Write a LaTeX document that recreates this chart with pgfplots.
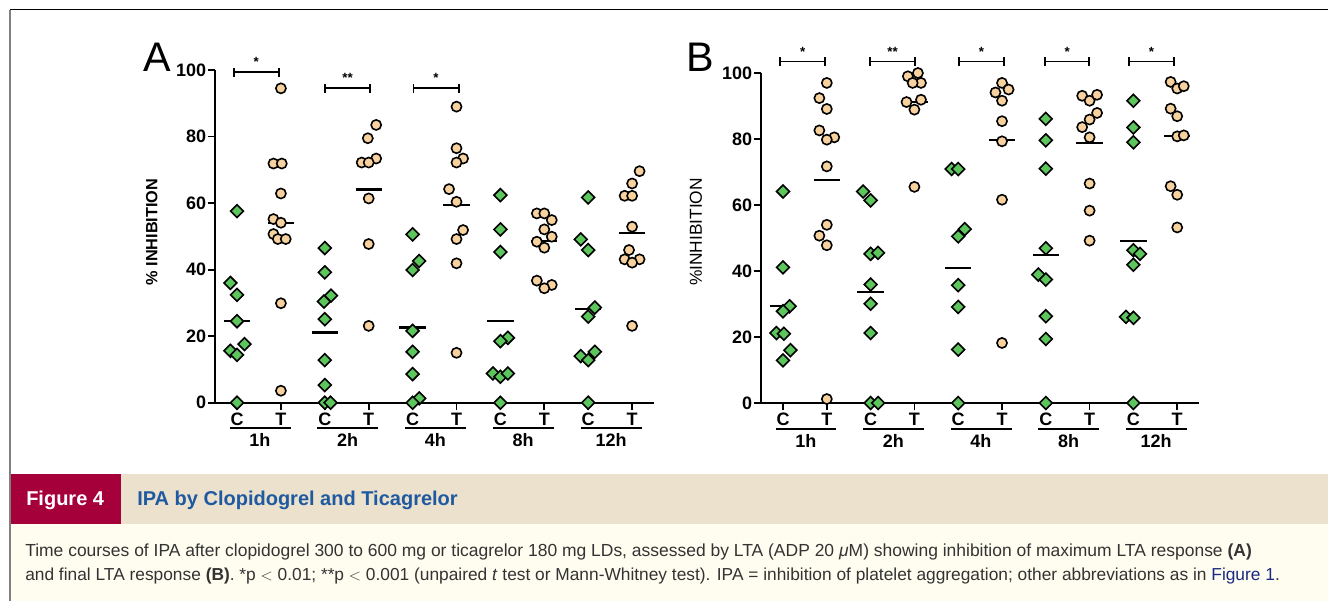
\documentclass[border=0pt]{standalone}
\usepackage{pgfplots}
\pgfplotsset{compat=1.18}
\usepackage{fontspec}
\setmainfont{Liberation Sans}
\newfontfamily\capfont{Liberation Sans}
\definecolor{cred}{HTML}{A6003A}
\definecolor{cbeige}{HTML}{EBE1CD}
\definecolor{ccream}{HTML}{FFFDF0}
\definecolor{ctitle}{HTML}{1F5AA0}
\definecolor{clink}{HTML}{1A2A80}
\definecolor{ctext}{HTML}{333333}
\definecolor{cgreen}{HTML}{5CC55C}
\definecolor{ctan}{HTML}{F7D29E}
\pgfplotsset{
 panel/.style={
  scale only axis, clip=false,
  xmin=0.5, xmax=10.5, ymin=0, ymax=100,
  axis x line=bottom, axis y line=left,
  axis line style={-, line width=1.5pt},
  xtick={1,...,10}, xticklabels={C,T,C,T,C,T,C,T,C,T},
  ytick={0,20,...,100},
  /pgf/number format/assume math mode=true,
  tick align=outside, major tick length=5.5pt,
  tick style={black, line width=1.3pt},
  xticklabel style={font=\bfseries\fontsize{13.5}{13.5}\selectfont, inner sep=1pt, yshift=-1pt},
  yticklabel style={font=\bfseries\fontsize{13.5}{13.5}\selectfont, inner sep=1pt},
 },
 cmark/.style={only marks, mark=square*, mark size=3.4pt, mark options={rotate=45, fill=cgreen, draw=black, line width=1.2pt}},
 tmark/.style={only marks, mark=*, mark size=3.8pt, mark options={fill=ctan, draw=black, line width=1.2pt}},
 med/.style={black, line width=1.6pt, no marks},
}
\newcommand{\brk}[5]{%
 \draw[line width=1.4pt] (axis cs:#1,#3) -- (axis cs:#2,#3);
 \draw[line width=1.4pt] ([yshift=-3.5pt]axis cs:#1,#3) -- ([yshift=3.5pt]axis cs:#1,#3);
 \draw[line width=1.4pt] ([yshift=-3.5pt]axis cs:#2,#3) -- ([yshift=3.5pt]axis cs:#2,#3);
 \node[font=\bfseries\fontsize{10}{10}\selectfont] at ([yshift=7.5pt]axis cs:#4,#3) {#5};}
\newcommand{\grp}[5]{%
 \draw[line width=1.3pt] ([yshift=-#5]axis cs:#1,0) -- ([yshift=-#5]axis cs:#2,0);
 \node[font=\bfseries\fontsize{13.5}{13.5}\selectfont] at ([yshift=-#5-9pt]axis cs:#3,0) {#4};}
\begin{document}
\begin{tikzpicture}[x=0.75pt,y=0.75pt]
\path[use as bounding box] (0,0) rectangle (1328,-601);
% frame and caption band
\fill[ccream] (10,-524) rectangle (1328,-601);
\fill[cbeige] (121,-474) rectangle (1328,-524);
\fill[cred] (10,-474) rectangle (121,-524);
\draw[black, line width=0.8pt] (10,-9.5) -- (1328,-9.5);
\draw[gray, line width=1pt] (10,-9.5) -- (10,-601);
\node[anchor=base west, text=white, inner sep=0, font=\bfseries\fontsize{15}{15}\selectfont] at (26,-505) {Figure 4};
\node[anchor=base west, text=ctitle, inner sep=0, font=\bfseries\fontsize{15}{15}\selectfont] at (137,-505) {IPA by Clopidogrel and Ticagrelor};
\node[anchor=base west, text=ctext, inner sep=0, font=\capfont\fontsize{13.1}{13.1}\selectfont] at (25,-556.7) {Time courses of IPA after clopidogrel 300 to 600 mg or ticagrelor 180 mg LDs, assessed by LTA (ADP 20 \textit{μ}M) showing inhibition of maximum LTA response \textbf{(A)}};
\node[anchor=base west, text=ctext, inner sep=0, font=\capfont\fontsize{13}{13}\selectfont] at (25,-580.5) {and final LTA response \textbf{(B)}. *p ${<}$ 0.01; **p ${<}$ 0.001 (unpaired \textit{t} test or Mann-Whitney test). IPA = inhibition of platelet aggregation; other abbreviations as in \textcolor{clink}{Figure 1}.};
% panel letters and y labels
\node[font=\fontsize{31}{31}\selectfont] at (157,-57) {A};
\node[font=\fontsize{31}{31}\selectfont] at (700,-57) {B};
\node[rotate=90, font=\bfseries\fontsize{12.2}{12.2}\selectfont] at (151.7,-232) {\% INHIBITION};
\node[rotate=90, font=\fontsize{13}{13}\selectfont] at (696,-232) {\%INHIBITION};
% ---------------- Panel A
\begin{axis}[panel, at={(161.29pt,-302.03pt)}, anchor=south west, width=329.25pt, height=249.5pt]
\addplot[cmark] coordinates {(1,57.6) (0.85,36.0) (1,32.4) (1,24.5) (1.17,17.6) (0.85,15.6) (1,14.4) (1,0)};
\addplot[tmark] coordinates {(2,94.5) (1.83,71.9) (2.02,71.9) (2,62.9) (1.83,55.2) (2,54.1) (1.83,50.7) (1.93,49.2) (2.11,49.2) (2,29.9) (2,3.6)};
\addplot[cmark] coordinates {(3,46.5) (3,39.2) (3.14,32.2) (2.98,30.4) (3,25.1) (3,12.8) (3,5.3) (3,0) (3.13,0)};
\addplot[tmark] coordinates {(4.17,83.5) (3.98,79.5) (4.17,73.4) (3.84,72.2) (4,72.2) (4,61.4) (4,47.7) (4,23.1)};
\addplot[cmark] coordinates {(5,50.6) (5.15,42.6) (5,39.9) (5,21.6) (5,15.3) (5,8.6) (5.15,1.3) (5,0)};
\addplot[tmark] coordinates {(6,89) (6,76.5) (6.15,73.4) (6,72.2) (5.83,64.2) (6,60.4) (6.15,51.9) (6,49.2) (6,41.9) (6,15.0)};
\addplot[cmark] coordinates {(7,62.4) (7,52.1) (7,45.3) (7.17,19.5) (7,18.5) (6.83,8.8) (7,7.8) (7.17,8.8) (7,0)};
\addplot[tmark] coordinates {(7.83,56.9) (8,56.9) (8.17,54.9) (8,52.1) (8.17,49.9) (7.83,48.4) (8,46.6) (7.83,36.7) (8.17,35.4) (8,34.4)};
\addplot[cmark] coordinates {(9,61.7) (8.83,49.1) (9,45.9) (9.15,28.6) (9,25.9) (9.15,15.3) (8.83,14.0) (9,12.8) (9,0)};
\addplot[tmark] coordinates {(10.17,69.6) (10,65.9) (9.83,62.2) (10,62.2) (10,52.9) (9.93,45.9) (9.83,43.1) (10.17,43.1) (10,42.1) (10,23.1)};
\addplot[med] coordinates {(0.7,24.5) (1.3,24.5)};
\addplot[med] coordinates {(1.7,54.1) (2.3,54.1)};
\addplot[med] coordinates {(2.7,21.1) (3.3,21.1)};
\addplot[med] coordinates {(3.7,64.1) (4.3,64.1)};
\addplot[med] coordinates {(4.7,22.6) (5.3,22.6)};
\addplot[med] coordinates {(5.7,59.4) (6.3,59.4)};
\addplot[med] coordinates {(6.7,24.6) (7.3,24.6)};
\addplot[med] coordinates {(7.7,48.5) (8.3,48.5)};
\addplot[med] coordinates {(8.7,28.1) (9.3,28.1)};
\addplot[med] coordinates {(9.7,50.9) (10.3,50.9)};
\brk{0.93}{1.95}{99.3}{1.44}{*}
\brk{3.0}{4.03}{94.5}{3.52}{**}
\brk{5.02}{6.05}{94.5}{5.53}{*}
\grp{0.83}{2.22}{1.52}{1h}{19pt}
\grp{2.83}{4.22}{3.52}{2h}{19pt}
\grp{4.83}{6.22}{5.52}{4h}{19pt}
\grp{6.83}{8.22}{7.52}{8h}{19pt}
\grp{8.83}{10.22}{9.52}{12h}{19pt}
\end{axis}
% ---------------- Panel B
\begin{axis}[panel, at={(570.83pt,-302.25pt)}, anchor=south west, width=328.5pt, height=247.5pt]
\addplot[cmark] coordinates {(1,64.1) (1,41.1) (1.15,29.3) (1,27.8) (0.85,21.2) (1.02,21.0) (1.17,16.0) (1,12.9)};
\addplot[tmark] coordinates {(2,97) (1.83,92.4) (2,89.1) (1.83,82.6) (2.17,80.5) (2,79.8) (2,71.7) (2,54) (1.83,50.7) (2,47.8) (2,1.2)};
\addplot[cmark] coordinates {(2.83,64.1) (3,61.4) (3,45.2) (3.17,45.5) (3,35.9) (3,30.1) (3,21.2) (3,0) (3.17,0)};
\addplot[tmark] coordinates {(4.08,100) (3.85,99) (4.15,97) (3.96,97) (3.82,91.2) (4.15,91.9) (4,88.9) (4,65.5)};
\addplot[cmark] coordinates {(4.85,70.9) (5,70.9) (5.15,52.7) (5,50.5) (5,35.7) (5,29.1) (5,16.2) (5,0)};
\addplot[tmark] coordinates {(6,97) (5.85,94.1) (6.15,95) (6,91.6) (6,85.4) (6,79.3) (6,61.6) (6,18.2)};
\addplot[cmark] coordinates {(7,86.1) (7,79.6) (7,71) (7,46.9) (6.83,38.9) (7,37.4) (7,26.3) (7,19.4) (7,0)};
\addplot[tmark] coordinates {(7.83,93.1) (8,91.6) (8.17,93.4) (8.17,87.9) (8,85.9) (7.83,83.6) (8,80.5) (8,66.5) (8,58.3) (8,49.2)};
\addplot[cmark] coordinates {(9,91.6) (9,83.5) (9,79) (9,46.3) (9.15,45.2) (9,41.9) (8.83,26.1) (9,25.8) (9,0)};
\addplot[tmark] coordinates {(9.85,97.3) (10,95.3) (10.15,96) (9.85,89.2) (10,86.9) (10,80.8) (10.15,81.1) (9.85,65.7) (10,63.1) (10,53.2)};
\addplot[med] coordinates {(0.7,29.3) (1.3,29.3)};
\addplot[med] coordinates {(1.7,67.7) (2.3,67.7)};
\addplot[med] coordinates {(2.7,33.6) (3.3,33.6)};
\addplot[med] coordinates {(3.7,91.2) (4.3,91.2)};
\addplot[med] coordinates {(4.7,40.9) (5.3,40.9)};
\addplot[med] coordinates {(5.7,79.6) (6.3,79.6)};
\addplot[med] coordinates {(6.7,44.9) (7.3,44.9)};
\addplot[med] coordinates {(7.7,78.8) (8.3,78.8)};
\addplot[med] coordinates {(8.7,49.0) (9.3,49.0)};
\addplot[med] coordinates {(9.7,80.8) (10.3,80.8)};
\brk{0.93}{1.96}{103.5}{1.45}{*}
\brk{2.99}{4.01}{103.5}{3.5}{**}
\brk{5.02}{6.04}{103.5}{5.53}{*}
\brk{6.98}{7.99}{103.5}{7.49}{*}
\brk{8.9}{9.92}{103.5}{9.41}{*}
\grp{0.83}{2.22}{1.52}{1h}{19.7pt}
\grp{2.83}{4.22}{3.52}{2h}{19.7pt}
\grp{4.83}{6.22}{5.52}{4h}{19.7pt}
\grp{6.83}{8.22}{7.52}{8h}{19.7pt}
\grp{8.83}{10.22}{9.52}{12h}{19.7pt}
\end{axis}
\end{tikzpicture}
\end{document}
